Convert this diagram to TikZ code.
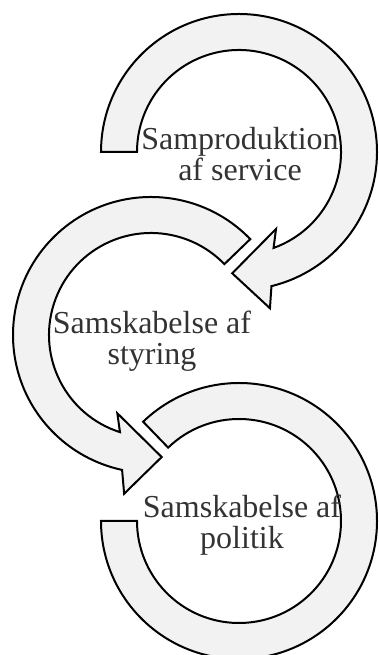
\documentclass[tikz,border=0pt]{standalone}
\usepackage{fontspec}
\setmainfont{Liberation Serif}
\definecolor{bandfill}{HTML}{F2F2F2}
\definecolor{textgray}{HTML}{333333}
\begin{document}
\begin{tikzpicture}[x=0.75pt,y=0.75pt,
        band/.style={fill=bandfill,draw=black,line width=1.5pt,line join=miter},
        ringtext/.style={anchor=base,align=center,text=textgray,font=\fontsize{24}{23.5}\selectfont}]
            \useasboundingbox (0,0) rectangle (378,655);
            \clip (0,0) rectangle (378,655);
            \coordinate (c1) at (239,503);
            \coordinate (c2) at (151,320);
            \coordinate (c3) at (239,134);
            \begin{scope}[shift={(c1)}]
                \filldraw[band] (180:138) arc[start angle=180,end angle=-76.4,radius=138] -- (-78.8:159.3) -- (-93.2:121.5) -- (-64.3:85.4) -- (-70.2:102) arc[start angle=-70.2,end angle=180,radius=102] -- cycle;
            \end{scope}
            \begin{scope}[shift={(c2)}]
                \filldraw[band] (44:138) arc[start angle=44,end angle=257.9,radius=138] -- (260.4:161) -- (275:122.5) -- (246.7:85.2) -- (252.3:102) arc[start angle=252.3,end angle=44,radius=102] -- cycle;
            \end{scope}
            \begin{scope}[shift={(c3)}]
                \filldraw[band] (180:138) arc[start angle=180,end angle=494,radius=138] -- (494:102) arc[start angle=494,end angle=180,radius=102] -- cycle;
            \end{scope}
            \node[ringtext] (service) at (240,474.5) {Samproduktion\\af service};
            \node[ringtext] (styring) at (152,290.5) {Samskabelse af\\styring};
            \node[ringtext] (politik) at (242,106.5) {Samskabelse af\\politik};
        \end{tikzpicture}
\end{document}
